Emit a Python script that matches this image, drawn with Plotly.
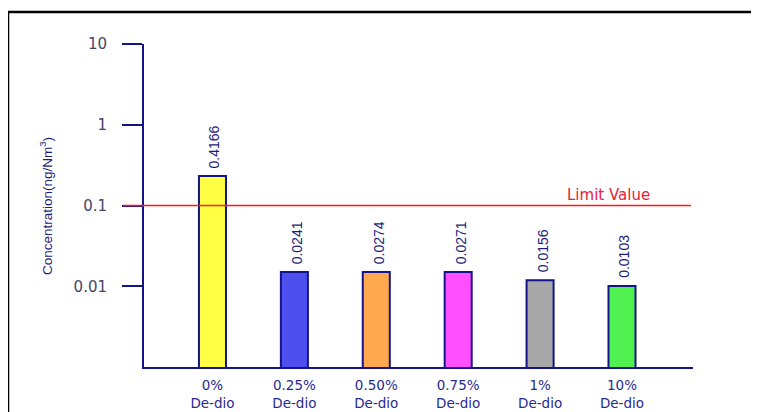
import math
import plotly.graph_objects as go

# ---- data ----
categories = ["0%<br>De-dio", "0.25%<br>De-dio", "0.50%<br>De-dio",
              "0.75%<br>De-dio", "1%<br>De-dio", "10%<br>De-dio"]
bar_heights = [0.232, 0.0150, 0.0150, 0.0150, 0.0119, 0.0101]   # drawn bar heights
value_labels = ["0.4166", "0.0241", "0.0274", "0.0271", "0.0156", "0.0103"]
bar_colors = ["#ffff44", "#4f4ff0", "#ffa84f", "#ff4fff", "#a8a8a8", "#4ff04f"]
limit_value = 0.1
y_tick_vals = [10, 1, 0.1, 0.01]
y_tick_text = ["10", "1", "0.1", "0.01"]

# page body has an 8px margin; compensate so the plot lands where the reference has it
OFF = 8
W, H = 759, 412
ML, MR, MT, MB = 144 - OFF, 66 + OFF, 44 - OFF, 45 + OFF
PW = W - ML - MR
PH = H - MT - MB

def px_x(p):   # screen pixel -> paper x
    return (p - OFF - ML) / PW

def px_y(p):   # screen pixel -> paper y
    return (H - MB - (p - OFF)) / PH

NAVY = "#14148a"

fig = go.Figure()
fig.add_trace(go.Bar(
    x=list(range(len(categories))), y=bar_heights,
    marker=dict(color=bar_colors, line=dict(color=NAVY, width=2)),
    width=0.33, showlegend=False, hoverinfo="skip",
))

annotations = []
for i, (v, lab) in enumerate(zip(bar_heights, value_labels)):
    annotations.append(dict(
        x=i + 0.03, y=math.log10(v), xref="x", yref="y", text=lab,
        showarrow=False, textangle=-90, yanchor="bottom", xanchor="center",
        yshift=6,
        font=dict(family="Liberation Sans Narrow, Liberation Sans, sans-serif",
                  size=14, color="#1c1c7c"),
    ))

annotations.append(dict(
    x=px_x(608), y=math.log10(limit_value), xref="paper", yref="y",
    text="Limit Value", showarrow=False, yanchor="bottom", xanchor="center",
    yshift=0, font=dict(family="DejaVu Sans", size=15, color="#e8203a"),
))

annotations.append(dict(
    x=px_x(46), y=px_y(206), xref="paper", yref="paper",
    text="Concentration(ng/Nm<sup>3</sup>)", showarrow=False, textangle=-90,
    xanchor="center", yanchor="middle",
    font=dict(family="Liberation Sans Narrow, Liberation Sans, sans-serif",
              size=13.5, color="#1c1c7c"),
))

shapes = [
    dict(type="line", xref="paper", yref="y", x0=px_x(123), x1=px_x(691),
         y0=limit_value, y1=limit_value, line=dict(color="#ff1a1a", width=1.5)),
    dict(type="rect", xref="paper", yref="paper", x0=px_x(8), x1=px_x(800),
         y0=px_y(450), y1=px_y(12), line=dict(color="black", width=2.5)),
]

fig.update_layout(
    width=W, height=H,
    margin=dict(l=ML, r=MR, t=MT, b=MB, autoexpand=False),
    paper_bgcolor="white", plot_bgcolor="white",
    annotations=annotations, shapes=shapes,
    xaxis=dict(
        range=[-0.836, 5.867], tickmode="array",
        tickvals=list(range(len(categories))), ticktext=categories,
        showgrid=False, zeroline=False, showline=True, linecolor=NAVY,
        linewidth=2, ticks="", ticklabelstandoff=5, automargin=False,
        tickfont=dict(family="DejaVu Sans", size=13.5, color="#2a2a90"),
    ),
    yaxis=dict(
        type="log", range=[-3, 1], tickmode="array",
        tickvals=y_tick_vals, ticktext=y_tick_text,
        showgrid=False, zeroline=False, showline=True, linecolor=NAVY,
        linewidth=2, ticks="outside", ticklen=20, tickwidth=1.5,
        tickcolor=NAVY, ticklabelstandoff=12, automargin=False,
        tickfont=dict(family="DejaVu Sans", size=15, color="#45456a"),
    ),
)

fig.write_html("out.html")
